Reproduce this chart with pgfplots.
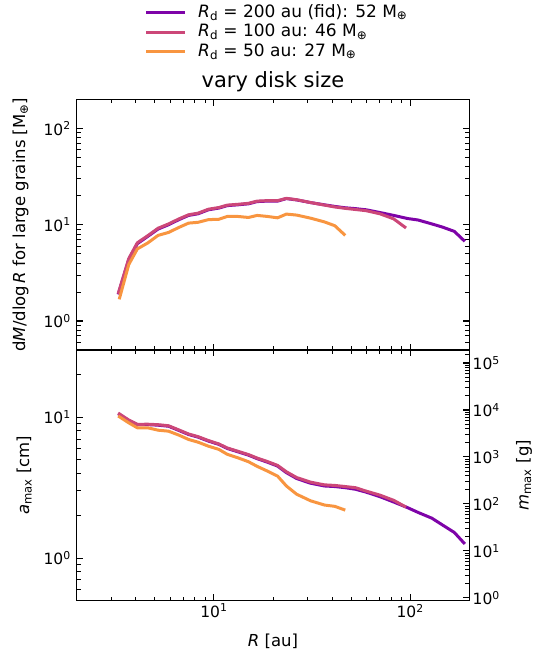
\documentclass[border=0pt]{standalone}
\usepackage{fontspec}
\setmainfont{DejaVu Sans}
\usepackage{pgfplots}
\pgfplotsset{compat=1.18}

\definecolor{cpurple}{HTML}{7E03A8}
\definecolor{cpink}{HTML}{CC4778}
\definecolor{corange}{HTML}{F89540}

\tikzset{dline/.style={line width=3pt, line join=round}}

\pgfplotsset{
  myaxis/.style={
    scale only axis, width=392.4pt, height=250.5pt,
    xmin=2, xmax=200,
    axis line style={line width=1.3pt},
    tick align=inside,
    major tick length=6.5pt, minor tick length=3.8pt,
    every major tick/.append style={black, line width=1.1pt},
    every minor tick/.append style={black, line width=0.9pt},
    tick label style={font=\fontsize{15.5}{18}\selectfont},
    label style={font=\fontsize{16.5}{19}\selectfont},
    xtick={10,100},
    minor xtick={2,3,4,5,6,7,8,9,20,30,40,50,60,70,80,90,200},
    yticklabel style={xshift=-2.5pt},
  },
}

\begin{document}
\begin{tikzpicture}
\useasboundingbox (0pt,0pt) rectangle (543pt,653pt);

% ---------- top panel ----------
\begin{axis}[xmode=log, ymode=log, myaxis,
  at={(76.8pt,303pt)}, anchor=south west,
  ymin=0.5, ymax=200,
  xticklabels={},
  ytick={1,10,100},
  yticklabels={10\textsuperscript{0},10\textsuperscript{1},10\textsuperscript{2}},
  minor ytick={0.5,0.6,0.7,0.8,0.9,2,3,4,5,6,7,8,9,20,30,40,50,60,70,80,90,200},
  ylabel={d\textit{M}/dlog\,\textit{R} for large grains [M\textsubscript{⊕}]},
  ylabel style={at={(axis description cs:-0.143,0.5)}, anchor=center},
  title={vary disk size},
  every axis title shift=0pt,
  title style={font=\fontsize{21}{24}\selectfont, at={(axis description cs:0.5,1)}, anchor=base, yshift=11.5pt},
  legend cell align=left,
  legend image code/.code={\draw[#1] (0pt,0pt) -- (38.3pt,0pt);},
  legend style={draw=none, fill=none, at={(axis description cs:0.1654,1.3932)}, anchor=north west,
    font=\fontsize{17}{20}\selectfont,
    nodes={inner xsep=0pt, inner ysep=1.5pt, text height=12.5pt, text depth=4pt},
    /tikz/every odd column/.append style={column sep=12pt}},
]
\addplot[dline, cpurple] coordinates {
(3.25,1.89)(3.68,4.35)(4.07,6.36)(4.60,7.57)(5.19,9.02)(5.87,10.0)(6.63,11.3)(7.43,12.5)(8.30,13.0)(9.37,14.3)(10.6,14.9)(11.7,15.8)(13.2,16.1)(15.0,16.5)(16.6,17.4)(18.7,17.6)(21.1,17.6)(23.4,18.7)(26.4,18.1)(31.1,17.0)(36.6,16.1)(41.3,15.5)(46.7,15.0)(52.7,14.7)(59.6,14.3)(70.1,13.4)(82.5,12.5)(97.1,11.6)(109.7,11.2)(129,10.2)(146,9.46)(168,8.53)(190,6.72)
};
\addlegendentry{\textit{R}\textsubscript{d} = 200 au (fid): 52 M\textsubscript{⊕}}
\addplot[dline, cpink] coordinates {
(3.25,1.92)(3.68,4.45)(4.07,6.5)(4.60,7.7)(5.19,9.2)(5.87,10.2)(6.63,11.5)(7.43,12.7)(8.30,13.2)(9.37,14.5)(10.6,15.1)(11.7,16.0)(13.2,16.3)(15.0,16.7)(16.6,17.6)(18.7,17.8)(21.1,17.8)(23.4,18.8)(26.4,18.2)(31.1,17.0)(36.6,16.0)(41.3,15.3)(46.7,14.8)(52.7,14.4)(59.6,14.0)(70.1,13.0)(82.5,11.5)(95.3,9.25)
};
\addlegendentry{\textit{R}\textsubscript{d} = 100 au: 46 M\textsubscript{⊕}}
\addplot[dline, corange] coordinates {
(3.29,1.68)(3.68,3.86)(4.07,5.61)(4.60,6.47)(5.19,7.75)(5.87,8.32)(6.63,9.38)(7.43,10.4)(8.30,10.6)(9.37,11.3)(10.6,11.4)(11.7,12.2)(13.2,12.2)(15.0,11.9)(16.6,12.5)(18.7,12.2)(21.1,11.8)(23.4,12.9)(26.4,12.6)(31.1,11.7)(36.6,10.7)(41.3,9.77)(46.7,7.75)
};
\addlegendentry{\textit{R}\textsubscript{d} = 50 au: 27 M\textsubscript{⊕}}
\end{axis}

% ---------- bottom panel (a_max) ----------
\begin{axis}[xmode=log, ymode=log, myaxis,
  at={(76.8pt,52.5pt)}, anchor=south west,
  ymin=0.5, ymax=30,
  ytick pos=left,
  xticklabels={10\textsuperscript{1},10\textsuperscript{2}},
  ytick={1,10},
  yticklabels={10\textsuperscript{0},10\textsuperscript{1}},
  minor ytick={0.5,0.6,0.7,0.8,0.9,2,3,4,5,6,7,8,9,20,30},
  xlabel={\textit{R} [au]},
  xlabel style={at={(axis description cs:0.5,-0.1645)}, anchor=center},
  ylabel={\textit{a}\textsubscript{max} [cm]},
  ylabel style={at={(axis description cs:-0.134,0.5)}, anchor=center},
]
\addplot[dline, cpurple] coordinates {
(3.25,10.6)(3.68,9.48)(4.07,8.84)(4.60,8.86)(5.19,8.78)(5.87,8.63)(6.63,8.05)(7.43,7.54)(8.30,7.22)(9.37,6.77)(10.6,6.41)(11.7,6.00)(13.2,5.69)(15.0,5.38)(16.6,5.08)(18.7,4.80)(21.1,4.50)(23.4,4.04)(26.4,3.67)(31.1,3.40)(36.6,3.25)(41.3,3.22)(46.7,3.16)(52.7,3.08)(59.6,2.94)(70.1,2.73)(82.5,2.50)(97.1,2.28)(109.7,2.11)(129,1.92)(146,1.72)(168,1.52)(190,1.26)
};
\addplot[dline, cpink] coordinates {
(3.25,10.7)(3.68,9.55)(4.07,8.9)(4.60,8.92)(5.19,8.85)(5.87,8.7)(6.63,8.12)(7.43,7.6)(8.30,7.28)(9.37,6.83)(10.6,6.46)(11.7,6.05)(13.2,5.74)(15.0,5.43)(16.6,5.13)(18.7,4.85)(21.1,4.55)(23.4,4.10)(26.4,3.73)(31.1,3.46)(36.6,3.31)(41.3,3.28)(46.7,3.22)(52.7,3.16)(59.6,2.99)(70.1,2.80)(82.5,2.57)(95.3,2.30)
};
\addplot[dline, corange] coordinates {
(3.25,10.2)(3.68,9.12)(4.07,8.41)(4.60,8.41)(5.19,8.09)(5.87,7.96)(6.63,7.46)(7.43,6.95)(8.30,6.65)(9.37,6.23)(10.6,5.91)(11.7,5.45)(13.2,5.16)(15.0,4.83)(16.6,4.48)(18.7,4.15)(21.1,3.82)(23.4,3.25)(26.4,2.84)(31.1,2.55)(36.6,2.38)(41.3,2.33)(46.7,2.19)
};
\end{axis}

% ---------- bottom panel right axis (m_max) ----------
\begin{axis}[xmode=log, ymode=log, myaxis,
  at={(76.8pt,52.5pt)}, anchor=south west,
  ymin=0.877, ymax=1.894e5,
  hide x axis,
  axis y line*=right,
  tick align=inside,
  ytick pos=right,
  ytick={1,10,100,1000,10000,100000},
  yticklabels={10\textsuperscript{0},10\textsuperscript{1},10\textsuperscript{2},10\textsuperscript{3},10\textsuperscript{4},10\textsuperscript{5}},
  minor ytick={2,3,4,5,6,7,8,9,20,30,40,50,60,70,80,90,200,300,400,500,600,700,800,900,2000,3000,4000,5000,6000,7000,8000,9000,20000,30000,40000,50000,60000,70000,80000,90000,1e5,1.5e5},
  yticklabel style={xshift=2.5pt},
  ylabel={\textit{m}\textsubscript{max} [g]},
  ylabel style={at={(axis description cs:1.1397,0.5)}, anchor=center},
]
\addplot[draw=none] coordinates {(10,10)};
\end{axis}
\end{tikzpicture}
\end{document}
